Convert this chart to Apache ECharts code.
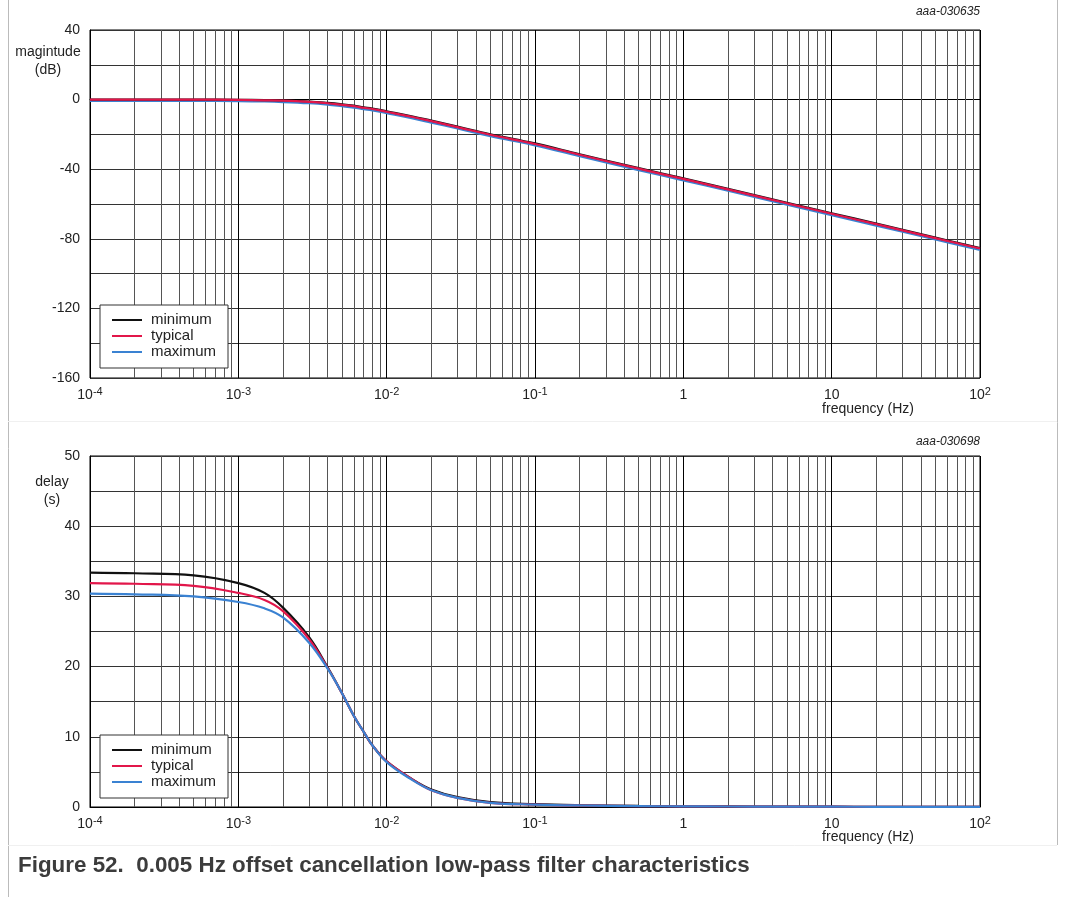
<!DOCTYPE html>
<html>
<head>
<meta charset="utf-8">
<script src="https://cdn.jsdelivr.net/npm/echarts@6/dist/echarts.min.js"></script>
<style>
    html, body { margin: 0; padding: 0; background: #fff; }
    #main { width: 1066px; height: 897px; }
</style>
</head>
<body>
<div id="main"></div>
<script>
// ======================================数据======================================
var seriesNames = ['minimum', 'typical', 'maximum'];
var freq = [1e-4, 2e-4, 5e-4, 1e-3, 1.5e-3, 2e-3, 3e-3, 4e-3, 5e-3, 6e-3, 7e-3, 8e-3, 1e-2, 1.5e-2,
    2e-2, 3e-2, 5e-2, 1e-1, 2e-1, 5e-1, 1, 2, 5, 10, 20, 50, 100];

// 幅度 (dB)
var magMin = [0, 0, 0, -0.1, -0.3, -0.5, -1.1, -1.9, -2.7, -3.5, -4.4, -5.1, -6.7, -9.7,
    -12.1, -15.5, -19.9, -25.2, -31.4, -39.4, -45.3, -51.3, -59.3, -65.3, -71.3, -79.3, -85.3];
var magTyp = [0, 0, 0, -0.2, -0.4, -0.6, -1.3, -2.1, -3.0, -3.8, -4.7, -5.4, -7.0, -10.0,
    -12.4, -15.8, -20.2, -25.5, -31.7, -39.7, -45.6, -51.6, -59.6, -65.6, -71.6, -79.6, -85.6];
var magMax = [-0.7, -0.7, -0.7, -0.9, -1.1, -1.4, -2.1, -2.9, -3.8, -4.6, -5.5, -6.2, -7.8, -10.8,
    -13.2, -16.6, -21.0, -26.3, -32.5, -40.5, -46.4, -52.4, -60.4, -66.4, -72.4, -80.4, -86.4];

// 延时 (s)
var delayMin = [33.4, 33.3, 33.0, 31.9, 30.5, 28.4, 24.2, 19.9, 16.2, 13.0, 10.7, 8.8, 6.5, 3.9,
    2.5, 1.4, 0.7, 0.4, 0.25, 0.15, 0.1, 0.08, 0.05, 0.04, 0.03, 0.02, 0.02];
var delayTyp = [31.9, 31.8, 31.5, 30.5, 29.5, 27.9, 23.9, 19.8, 16.2, 13.0, 10.7, 8.8, 6.5, 3.9,
    2.4, 1.3, 0.6, 0.35, 0.22, 0.13, 0.09, 0.07, 0.05, 0.04, 0.03, 0.02, 0.02];
var delayMax = [30.4, 30.3, 30.0, 29.2, 28.3, 27.0, 23.4, 19.7, 16.2, 13.0, 10.7, 8.8, 6.4, 3.8,
    2.4, 1.3, 0.6, 0.35, 0.22, 0.13, 0.09, 0.07, 0.05, 0.04, 0.03, 0.02, 0.02];

var colors = ['#111111', '#e2164a', '#3a82d2'];
var font = 'Liberation Sans, Arial, sans-serif';

// ======================================工具函数======================================
function pairs(xs, ys) {
    var out = [];
    for (var i = 0; i < xs.length; i++) {
        out.push([xs[i], ys[i]]);
    }
    return out;
}

// 对数轴的次网格线 2..9 x 10^n，两端都给出坐标
function minorLines(yMin, yMax) {
    var out = [];
    for (var e = -4; e < 2; e++) {
        for (var m = 2; m <= 9; m++) {
            var v = m * Math.pow(10, e);
            out.push([{ coord: [v, yMin] }, { coord: [v, yMax] }]);
        }
    }
    return out;
}

function xLabel(v) {
    var e = Math.round(Math.log(v) / Math.LN10);
    if (e === 0) return '1';
    if (e === 1) return '10';
    return '10{sup|' + e + '}';
}

function xAxisOpt(gridIndex) {
    return {
        type: 'log',
        logBase: 10,
        gridIndex: gridIndex,
        min: 1e-4,
        max: 100,
        splitNumber: 5,
        axisLine: { show: true, lineStyle: { color: '#000', width: 1 } },
        axisTick: { show: false },
        splitLine: { show: true, lineStyle: { color: '#000', width: 1 } },
        axisLabel: {
            formatter: xLabel,
            color: '#222',
            fontFamily: font,
            fontSize: 14,
            margin: 8,
            lineHeight: 18,
            rich: {
                sup: { fontSize: 11, fontFamily: font, color: '#222', verticalAlign: 'top', lineHeight: 12, padding: [0, 0, 8, 0] }
            }
        }
    };
}

function yAxisOpt(gridIndex, min, max, step, labelStep) {
    return {
        type: 'value',
        gridIndex: gridIndex,
        min: min,
        max: max,
        interval: step,
        axisLine: { show: true, lineStyle: { color: '#000', width: 1 } },
        axisTick: { show: false },
        splitLine: { show: true, lineStyle: { color: '#333', width: 1 } },
        axisLabel: {
            color: '#222',
            fontFamily: font,
            fontSize: 14,
            margin: 10,
            formatter: function (v) {
                return v % labelStep === 0 ? String(v) : '';
            }
        }
    };
}

function lineSeries(name, idx, data, color) {
    return {
        name: name,
        type: 'line',
        xAxisIndex: idx,
        yAxisIndex: idx,
        data: data,
        smooth: 0.4,
        showSymbol: false,
        symbol: 'none',
        z: 3,
        lineStyle: { color: color, width: 2.2 },
        itemStyle: { color: color }
    };
}

function gridSeries(idx, yMin, yMax) {
    return {
        name: 'grid' + idx,
        type: 'line',
        xAxisIndex: idx,
        yAxisIndex: idx,
        data: [],
        silent: true,
        z: 1,
        markLine: {
            silent: true,
            z: 1,
            symbol: ['none', 'none'],
            label: { show: false },
            animation: false,
            lineStyle: { color: '#555', width: 1, type: 'solid' },
            data: minorLines(yMin, yMax)
        }
    };
}

function legendOpt(top) {
    return {
        data: seriesNames,
        orient: 'vertical',
        left: 100,
        top: top,
        z: 20,
        itemWidth: 30,
        itemHeight: 2,
        itemGap: 0,
        icon: 'rect',
        padding: [7, 12, 8, 12],
        backgroundColor: '#fff',
        borderColor: '#333',
        borderWidth: 1,
        selectedMode: false,
        textStyle: { color: '#222', fontFamily: font, fontSize: 15, lineHeight: 16, padding: [0, 0, 0, 4] }
    };
}

function text(x, y, str, opts) {
    var style = {
        text: str,
        fill: '#222',
        font: (opts.weight || 'normal') + ' ' + (opts.size || 14) + 'px ' + font,
        textAlign: opts.align || 'left',
        textVerticalAlign: 'middle'
    };
    if (opts.italic) style.font = 'italic ' + style.font;
    if (opts.fill) style.fill = opts.fill;
    return { type: 'text', x: x, y: y, style: style, z: 10 };
}

function hline(x1, x2, y, color) {
    return { type: 'line', shape: { x1: x1, y1: y, x2: x2, y2: y }, style: { stroke: color, lineWidth: 1 }, z: 0 };
}

function vline(x, y1, y2, color) {
    return { type: 'line', shape: { x1: x, y1: y1, x2: x, y2: y2 }, style: { stroke: color, lineWidth: 1 }, z: 0 };
}

// ======================================图表======================================
var chart = echarts.init(document.getElementById('main'));

var option = {
    animation: false,
    backgroundColor: '#fff',
    grid: [
        { left: 90, right: 86, top: 30, height: 348, show: true, borderColor: '#000', borderWidth: 1 },
        { left: 90, right: 86, top: 456, height: 351, show: true, borderColor: '#000', borderWidth: 1 }
    ],
    xAxis: [xAxisOpt(0), xAxisOpt(1)],
    yAxis: [yAxisOpt(0, -160, 40, 20, 40), yAxisOpt(1, 0, 50, 5, 10)],
    legend: [legendOpt(305), legendOpt(735)],
    series: [
        gridSeries(0, -160, 40),
        gridSeries(1, 0, 50),
        lineSeries('maximum', 0, pairs(freq, magMax), colors[2]),
        lineSeries('minimum', 0, pairs(freq, magMin), colors[0]),
        lineSeries('typical', 0, pairs(freq, magTyp), colors[1]),
        lineSeries('minimum', 1, pairs(freq, delayMin), colors[0]),
        lineSeries('typical', 1, pairs(freq, delayTyp), colors[1]),
        lineSeries('maximum', 1, pairs(freq, delayMax), colors[2])
    ],
    graphic: [
        vline(8.5, 0, 897, '#bbb'),
        vline(1057.5, 0, 845, '#bbb'),
        hline(8, 1057, 421.5, '#f0f0f0'),
        hline(8, 1057, 845.5, '#f0f0f0'),
        text(980, 12, 'aaa-030635', { align: 'right', italic: true, size: 12 }),
        text(980, 442, 'aaa-030698', { align: 'right', italic: true, size: 12 }),
        text(48, 52, 'magintude', { align: 'center' }),
        text(48, 70, '(dB)', { align: 'center' }),
        text(52, 482, 'delay', { align: 'center' }),
        text(52, 500, '(s)', { align: 'center' }),
        text(868, 409, 'frequency (Hz)', { align: 'center' }),
        text(868, 837, 'frequency (Hz)', { align: 'center' }),
        text(18, 866, 'Figure 52.  0.005 Hz offset cancellation low-pass filter characteristics',
            { weight: 'bold', size: 22.4, fill: '#3c3c3c' })
    ]
};

chart.setOption(option);
</script>
</body>
</html>
